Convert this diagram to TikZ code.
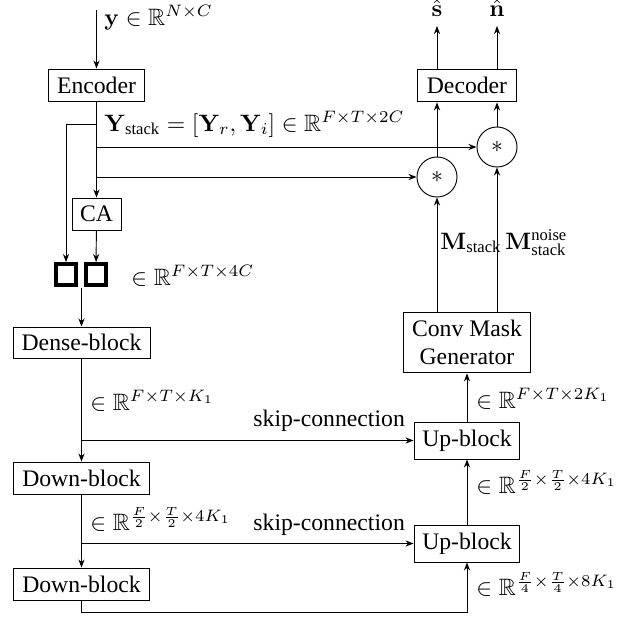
\documentclass[tikz,border=0pt]{standalone}
\usepackage{amsmath,amssymb}
\usepackage[no-math]{fontspec}
\setmainfont{Liberation Serif}
\usetikzlibrary{arrows.meta}
\begin{document}
\begin{tikzpicture}[x=0.422pt,y=-0.422pt,
  >={Stealth[length=3.4pt,width=2.6pt]},
  box/.style={draw, inner sep=0pt, align=center},
  circ/.style={draw, circle, minimum size=16.9pt, inner sep=0pt},
  sqbox/.style={draw, line width=1.7pt, minimum size=8.8pt, inner sep=0pt},
  lab/.style={anchor=base west, inner sep=0pt}]
\useasboundingbox (0,0) rectangle (637,618);
% blocks
\node[box, minimum width=40.9pt, minimum height=13.5pt] (enc) at (96.5,85) {Encoder};
\node[box, minimum width=20.7pt, minimum height=13.5pt] (ca) at (96.5,214) {CA};
\node[sqbox] (sq1) at (66,274.5) {};
\node[sqbox] (sq2) at (96,274.5) {};
\node[box, minimum width=57.8pt, minimum height=13.1pt] (dense) at (81.5,342.5) {Dense-block};
\node[box, minimum width=57pt, minimum height=13.5pt] (down1) at (81.5,478) {Down-block};
\node[box, minimum width=57pt, minimum height=13.5pt] (down2) at (81.5,584) {Down-block};
\node[box, minimum width=44.7pt, minimum height=15.6pt] (up2) at (467,543.5) {Up-block};
\node[box, minimum width=44.7pt, minimum height=15.6pt] (up1) at (467,440.5) {Up-block};
\node[box, minimum width=53.2pt, minimum height=25.7pt] (cmg) at (467,342.5) {Conv Mask\\Generator};
\node[box, minimum width=41.4pt, minimum height=13.9pt] (dec) at (467,85.5) {Decoder};
\node[circ] (c1) at (437,177) {$*$};
\node[circ] (c2) at (497,147) {$*$};
% coordinates
\coordinate (in) at (96.5,10);
\coordinate (b1) at (96.5,124);
\coordinate (sqm) at (81.5,288);
\coordinate (s) at (437,26);
\coordinate (n) at (497,26);
% connectors
\draw[->] (in) -- (enc);
\draw[->] (enc.south) -- (ca.north);
\draw[->] (b1) -| (sq1.north);
\draw[->] (enc.south |- c2) -- (c2);
\draw[->] (enc.south |- c1) -- (c1);
\draw[->] (ca) -- (sq2);
\draw[->] (sqm) -- (dense);
\draw[->] (dense) -- (down1);
\draw[->] (dense.south |- up1) -- (up1);
\draw[->] (down1) -- (down2);
\draw[->] (down1.south |- up2) -- (up2);
\draw[->] (down2.south) -- ++(0,12) -| (up2.south);
\draw[->] (up2) -- (up1);
\draw[->] (up1) -- (cmg);
\draw[->] (cmg.north -| c1) -- (c1);
\draw[->] (cmg.north -| c2) -- (c2);
\draw[->] (c1) -- (dec.south -| c1);
\draw[->] (c2) -- (dec.south -| c2);
\draw[->] (dec.north -| s) -- (s);
\draw[->] (dec.north -| n) -- (n);
% labels
\node[lab] (ly) at (104,25) {$\mathbf{y}\in\mathbb{R}^{N\times C}$};
\node[lab] (lys) at (104,131) {$\mathbf{Y}_{\text{stack}}=[\mathbf{Y}_r,\mathbf{Y}_i]\in\mathbb{R}^{F\times T\times 2C}$};
\node[lab] (l4c) at (131,285) {$\in\mathbb{R}^{F\times T\times 4C}$};
\node[lab] (lk1) at (90,410) {$\in\mathbb{R}^{F\times T\times K_1}$};
\node[lab] (sk1) at (253,426) {skip-connection};
\node[lab] (lk2) at (90,530) {$\in\mathbb{R}^{\frac{F}{2}\times\frac{T}{2}\times 4K_1}$};
\node[lab] (sk2) at (253,530) {skip-connection};
\node[lab] (r1) at (476,408) {$\in\mathbb{R}^{F\times T\times 2K_1}$};
\node[lab] (r2) at (476,493) {$\in\mathbb{R}^{\frac{F}{2}\times\frac{T}{2}\times 4K_1}$};
\node[lab] (r3) at (476,595) {$\in\mathbb{R}^{\frac{F}{4}\times\frac{T}{4}\times 8K_1}$};
\node[lab] (lm1) at (440,249) {$\mathbf{M}_{\text{stack}}$};
\node[lab] (lm2) at (505,249) {$\mathbf{M}_{\text{stack}}^{\text{noise}}$};
\node[anchor=base, inner sep=0pt] (ls) at (437,17) {$\hat{\mathbf{s}}$};
\node[anchor=base, inner sep=0pt] (ln) at (497,17) {$\hat{\mathbf{n}}$};
\end{tikzpicture}
\end{document}
